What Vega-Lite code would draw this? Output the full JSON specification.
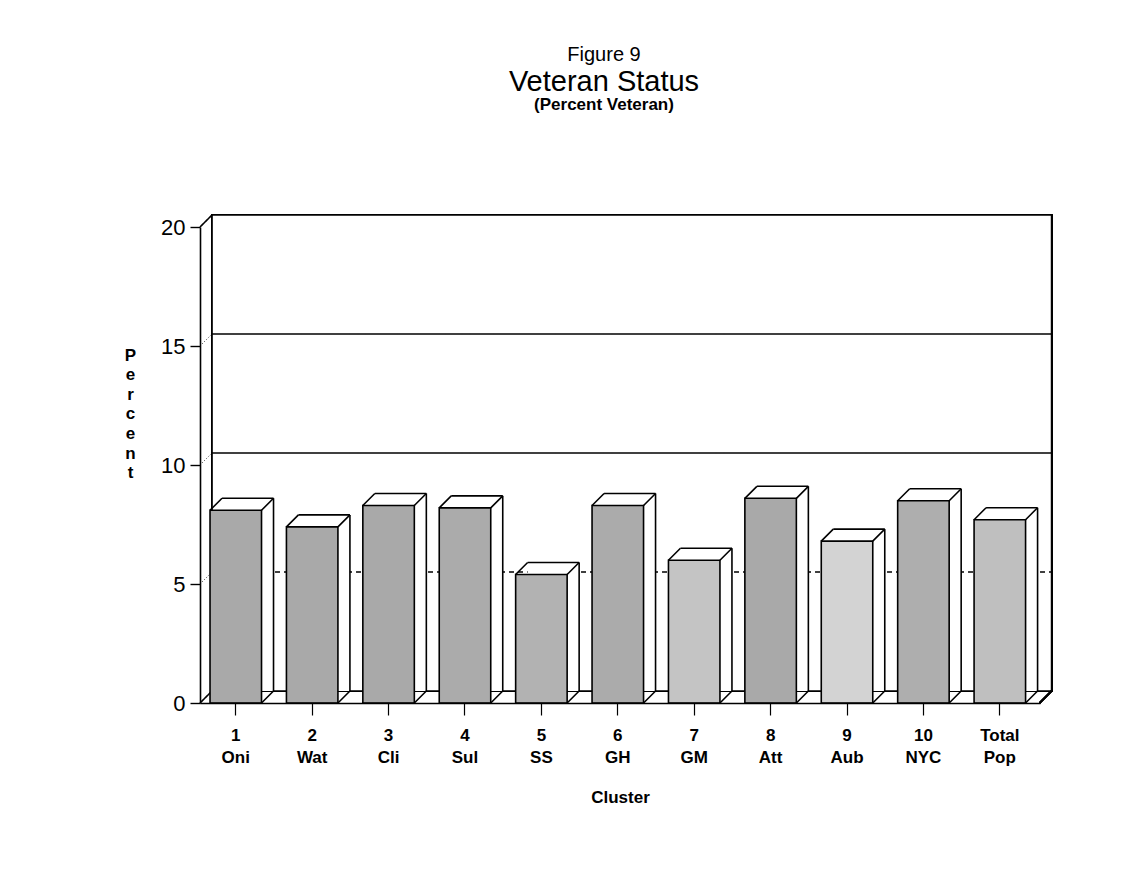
{
  "$schema": "https://vega.github.io/schema/vega-lite/v6.json",
  "background": "white",
  "padding": {"left": 124, "top": 45, "right": 10, "bottom": 10},
  "config": {
    "view": {"stroke": null},
    "font": "Liberation Sans",
    "axis": {"domainColor": "black", "tickColor": "black", "labelColor": "black", "titleColor": "black", "grid": false}
  },
  "title": {"text": "Figure 9", "fontSize": 20, "fontWeight": "normal", "font": "Liberation Sans", "color": "black", "anchor": "middle", "frame": "group", "offset": 3, "dx": -16},
  "data": {"values": [
    {"cluster": "1|Oni", "percent": 8.1},
    {"cluster": "2|Wat", "percent": 7.4},
    {"cluster": "3|Cli", "percent": 8.3},
    {"cluster": "4|Sul", "percent": 8.2},
    {"cluster": "5|SS", "percent": 5.4},
    {"cluster": "6|GH", "percent": 8.3},
    {"cluster": "7|GM", "percent": 6.0},
    {"cluster": "8|Att", "percent": 8.6},
    {"cluster": "9|Aub", "percent": 6.8},
    {"cluster": "10|NYC", "percent": 8.5},
    {"cluster": "Total|Pop", "percent": 7.7}
  ]},
  "vconcat": [{
    "width": 840,
    "height": 476,
    "title": {"text": "Veteran Status", "subtitle": "(Percent Veteran)", "fontSize": 29, "fontWeight": "normal", "font": "Liberation Sans", "color": "black", "subtitleFontSize": 17, "subtitleFontWeight": "bold", "subtitleFont": "Liberation Sans", "subtitleColor": "black", "subtitlePadding": 0, "anchor": "middle", "frame": "group", "offset": 101, "dx": -16},
    "layer": [
      {
        "mark": {"type": "rect", "fill": "white", "stroke": "black", "strokeWidth": 1.6, "xOffset": 2, "x2Offset": 26, "yOffset": -12, "y2Offset": -12},
        "encoding": {
          "x": {"datum": "1|Oni", "bandPosition": 0, "type": "nominal"},
          "x2": {"datum": "Total|Pop", "bandPosition": 1},
          "y": {"datum": 20, "type": "quantitative"},
          "y2": {"datum": 0}
        }
      },
      {
        "data": {"values": [{"t": 5}, {"t": 10}, {"t": 15}]},
        "mark": {"type": "rule", "color": "black", "strokeWidth": 1.4, "xOffset": 2, "x2Offset": 26, "yOffset": -12},
        "encoding": {
          "x": {"datum": "1|Oni", "bandPosition": 0, "type": "nominal"},
          "x2": {"datum": "Total|Pop", "bandPosition": 1},
          "y": {"field": "t", "type": "quantitative"},
          "strokeDash": {"condition": {"test": "datum.t == 5", "value": [5, 4]}, "value": [1, 0]}
        }
      },
      {
        "data": {"values": [{"t": 0}, {"t": 5}, {"t": 10}, {"t": 15}, {"t": 20}]},
        "mark": {"type": "rule", "color": "black", "xOffset": -10, "x2Offset": 2, "y2Offset": -12},
        "encoding": {
          "x": {"datum": "1|Oni", "bandPosition": 0, "type": "nominal"},
          "x2": {"datum": "1|Oni", "bandPosition": 0},
          "y": {"field": "t", "type": "quantitative"},
          "y2": {"field": "t"},
          "strokeDash": {"condition": {"test": "datum.t == 0 || datum.t == 20", "value": [1, 0]}, "value": [1, 2]},
          "strokeWidth": {"condition": {"test": "datum.t == 0 || datum.t == 20", "value": 1.6}, "value": 0.8}
        }
      },
      {
        "mark": {"type": "rule", "color": "black", "strokeWidth": 1.6, "xOffset": 14, "x2Offset": 26, "y2Offset": -12},
        "encoding": {
          "x": {"datum": "Total|Pop", "bandPosition": 1, "type": "nominal"},
          "x2": {"datum": "Total|Pop", "bandPosition": 1},
          "y": {"datum": 0, "type": "quantitative"},
          "y2": {"datum": 0}
        }
      },
      {
        "mark": {"type": "bar", "fill": "white", "stroke": null, "xOffset": 12, "yOffset": -12, "y2Offset": -12},
        "encoding": {
          "x": {"field": "cluster", "type": "nominal", "sort": null},
          "y": {"field": "percent", "type": "quantitative"},
          "y2": {"datum": 0}
        }
      },
      {
        "mark": {"type": "bar", "stroke": "black", "strokeWidth": 1.6},
        "encoding": {
          "x": {
            "field": "cluster", "type": "nominal", "sort": null,
            "scale": {
              "domain": ["1|Oni", "2|Wat", "3|Cli", "4|Sul", "5|SS", "6|GH", "7|GM", "8|Att", "9|Aub", "10|NYC", "Total|Pop"],
              "paddingInner": 0.326, "paddingOuter": 0.16, "align": 0.41
            },
            "axis": {
              "title": "Cluster", "titleFontSize": 17, "titleFontWeight": "bold", "titlePadding": 24,
              "labelExpr": "split(datum.label, '|')", "labelAngle": 0, "labelAlign": "center", "labelFontSize": 17, "labelFontWeight": "bold",
              "labelLineHeight": 22, "labelPadding": 20, "tickSize": 12, "tickWidth": 1.2, "domainWidth": 1.6
            }
          },
          "y": {
            "field": "percent", "type": "quantitative",
            "scale": {"domain": [0, 20], "nice": false},
            "axis": {
              "values": [0, 5, 10, 15, 20], "title": ["P", "e", "r", "c", "e", "n", "t"], "titleAngle": 0,
              "titleFontSize": 17, "titleFontWeight": "bold", "titleLineHeight": 19.6, "titleAlign": "center",
              "titleBaseline": "top", "titleX": -70, "titleY": 120,
              "labelFontSize": 22, "labelFontWeight": "normal", "labelPadding": 5, "tickSize": 10, "tickWidth": 1.4, "domainWidth": 1.6
            }
          },
          "color": {
            "field": "cluster", "type": "nominal", "legend": null,
            "scale": {
              "domain": ["1|Oni", "2|Wat", "3|Cli", "4|Sul", "5|SS", "6|GH", "7|GM", "8|Att", "9|Aub", "10|NYC", "Total|Pop"],
              "range": ["#a9a9a9", "#a9a9a9", "#a9a9a9", "#ababab", "#b2b2b2", "#ababab", "#c4c4c4", "#a9a9a9", "#d3d3d3", "#aeaeae", "#bfbfbf"]
            }
          }
        }
      },
      {
        "mark": {"type": "rule", "color": "black", "strokeWidth": 1.6, "xOffset": 12, "x2Offset": 12, "yOffset": -12},
        "encoding": {
          "x": {"field": "cluster", "type": "nominal", "sort": null, "bandPosition": 0},
          "x2": {"field": "cluster", "bandPosition": 1},
          "y": {"field": "percent", "type": "quantitative"}
        }
      },
      {
        "mark": {"type": "rule", "color": "black", "strokeWidth": 1.6, "xOffset": 12, "yOffset": -12, "y2Offset": -12},
        "encoding": {
          "x": {"field": "cluster", "type": "nominal", "sort": null, "bandPosition": 1},
          "y": {"field": "percent", "type": "quantitative"},
          "y2": {"datum": 0}
        }
      },
      {
        "mark": {"type": "rule", "color": "black", "strokeWidth": 1.6, "x2Offset": 12, "y2Offset": -12},
        "encoding": {
          "x": {"field": "cluster", "type": "nominal", "sort": null, "bandPosition": 0},
          "x2": {"field": "cluster", "bandPosition": 0},
          "y": {"field": "percent", "type": "quantitative"},
          "y2": {"field": "percent"}
        }
      },
      {
        "mark": {"type": "rule", "color": "black", "strokeWidth": 1.6, "x2Offset": 12, "y2Offset": -12},
        "encoding": {
          "x": {"field": "cluster", "type": "nominal", "sort": null, "bandPosition": 1},
          "x2": {"field": "cluster", "bandPosition": 1},
          "y": {"field": "percent", "type": "quantitative"},
          "y2": {"field": "percent"}
        }
      },
      {
        "mark": {"type": "rule", "color": "black", "strokeWidth": 1.6, "x2Offset": 12, "y2Offset": -12},
        "encoding": {
          "x": {"field": "cluster", "type": "nominal", "sort": null, "bandPosition": 1},
          "x2": {"field": "cluster", "bandPosition": 1},
          "y": {"datum": 0, "type": "quantitative"},
          "y2": {"datum": 0}
        }
      }
    ]
  }]
}
